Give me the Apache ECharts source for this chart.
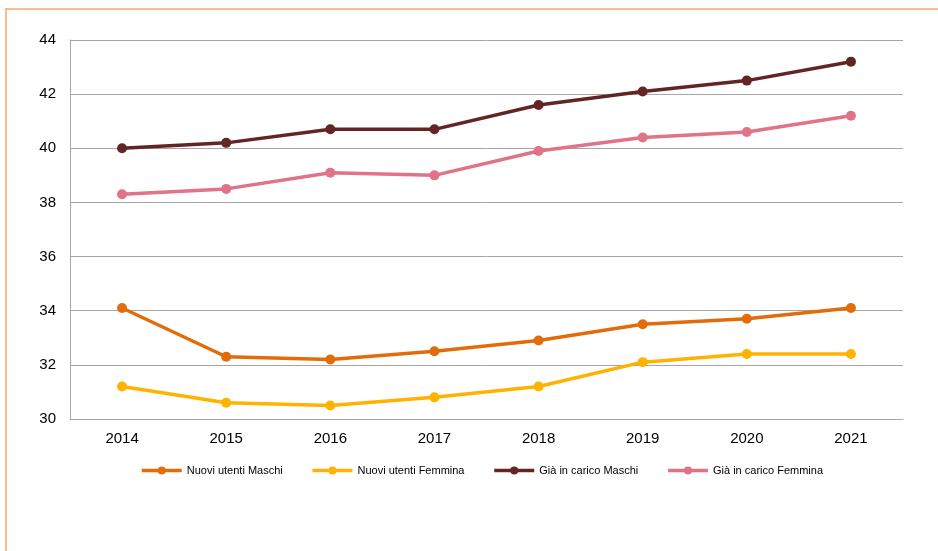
<!DOCTYPE html>
<html>
<head>
<meta charset="utf-8">
<script src="https://cdn.jsdelivr.net/npm/echarts@6/dist/echarts.min.js"></script>
<style>
  html, body { margin: 0; padding: 0; background: #fff; }
  #chart { width: 938px; height: 551px; }
</style>
</head>
<body>
<div id="chart"></div>
<script>
const years = ['2014', '2015', '2016', '2017', '2018', '2019', '2020', '2021'];

const nuoviMaschi = [34.1, 32.3, 32.2, 32.5, 32.9, 33.5, 33.7, 34.1];
const nuoviFemmina = [31.2, 30.6, 30.5, 30.8, 31.2, 32.1, 32.4, 32.4];
const giaMaschi = [40.0, 40.2, 40.7, 40.7, 41.6, 42.1, 42.5, 43.2];
const giaFemmina = [38.3, 38.5, 39.1, 39.0, 39.9, 40.4, 40.6, 41.2];

const seriesNames = ['Nuovi utenti Maschi', 'Nuovi utenti Femmina', 'Già in carico Maschi', 'Già in carico Femmina'];
const seriesColors = ['#e36c0a', '#ffb300', '#632523', '#e07388'];
const seriesData = [nuoviMaschi, nuoviFemmina, giaMaschi, giaFemmina];

const font = 'Liberation Sans, Arial, sans-serif';

const chart = echarts.init(document.getElementById('chart'));

const option = {
  animation: false,
  backgroundColor: '#fff',
  textStyle: { fontFamily: font },
  graphic: [
    {
      type: 'rect',
      shape: { x: 6, y: 9, width: 1000, height: 700 },
      style: { fill: 'none', stroke: '#f9a86c', lineWidth: 1.5 },
      silent: true
    }
  ],
  grid: {
    left: 70,
    right: 35,
    top: 40,
    bottom: 132
  },
  legend: {
    left: 140,
    top: 465,
    padding: 0,
    itemWidth: 40,
    itemHeight: 10,
    itemGap: 28,
    lineStyle: { width: 3.5 },
    textStyle: { fontFamily: font, fontSize: 11, color: '#000' },
    data: seriesNames
  },
  xAxis: {
    type: 'category',
    data: years,
    boundaryGap: true,
    axisLine: { lineStyle: { color: '#a6a6a6', width: 1 } },
    axisTick: { show: false },
    axisLabel: { fontFamily: font, fontSize: 15, color: '#000', margin: 12 }
  },
  yAxis: {
    type: 'value',
    min: 30,
    max: 44,
    interval: 2,
    axisLine: { show: true, lineStyle: { color: '#a6a6a6', width: 1 } },
    axisTick: { show: false },
    axisLabel: { fontFamily: font, fontSize: 15, color: '#000', margin: 14 },
    splitLine: { lineStyle: { color: '#a6a6a6', width: 1 } }
  },
  series: seriesNames.map((name, i) => ({
    name: name,
    type: 'line',
    data: seriesData[i],
    color: seriesColors[i],
    symbol: 'circle',
    symbolSize: 10,
    lineStyle: { width: 3.5, color: seriesColors[i] },
    itemStyle: { color: seriesColors[i] }
  }))
};

chart.setOption(option);
</script>
</body>
</html>
